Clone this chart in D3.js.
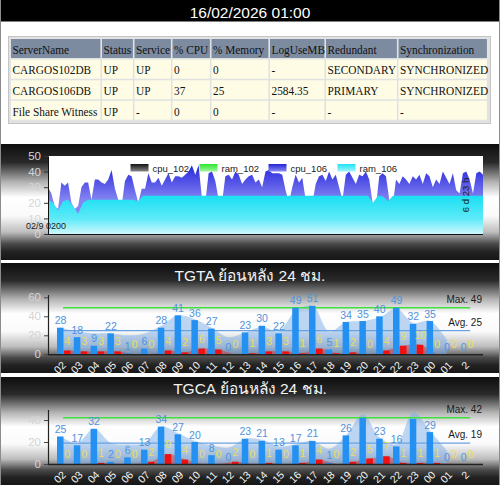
<!DOCTYPE html>
<html>
<head>
<meta charset="utf-8">
<script src="https://cdn.jsdelivr.net/npm/d3@7"></script>
<style>
body { margin: 0; background: #fff; }
svg { display: block; }
</style>
</head>
<body>
<svg id="chart" width="500" height="485"></svg>
<script>
// ---- data ----
var stamp = "16/02/2026 01:00";
var tableHead = ["ServerName", "Status", "Service", "% CPU", "% Memory", "LogUseMB", "Redundant", "Synchronization"];
var tableRows = [
	["CARGOS102DB", "UP", "UP", "0", "0", "-", "SECONDARY", "SYNCHRONIZED"],
	["CARGOS106DB", "UP", "UP", "37", "25", "2584.35", "PRIMARY", "SYNCHRONIZED"],
	["File Share Witness", "UP", "-", "0", "0", "-", "-", "-"]
];

var legendNames = ["cpu_102", "ram_102", "cpu_106", "ram_106"];
var cpuTicks = [0, 10, 20, 30, 40, 50];
var startLabel = "02/9 0200";
var spanLabel = "6 d 23 h";

// cpu_106 over the period (left to right)
var cpu106 = [30,26,18,16,33,31,33,20,16,18,30,33,33,22,35,35,33,32,35,41,29,22,18,34,38,37,28,20,29,29,
	39,33,33,36,31,35,39,33,37,37,36,38,40,44,38,44,23,20,39,40,34,22,20,37,38,35,40,38,32,35,37,
	38,33,35,30,40,41,39,39,39,38,28,20,30,38,33,36,22,18,20,32,37,38,34,40,35,38,30,22,38,40,
	36,32,38,37,40,35,20,18,37,39,37,22,18,35,32,37,35,32,37,35,38,32,39,37,30,35,32,40,36,32,
	39,28,26,39,40,35,26,39,40,38];
// ram_106 over the same period
var ram106 = [22,20,15,21,22,18,13,20,22,22,22,22,22,22,22,22,22,22,21,
	24.5,24.5,24.5,24.5,24.5,24.5,24.5,24.5,24.5,24.5,24.5,24.5,24.5,24.5,24.5,24.5,24.5,24.5,24.5,24.5,24.5,24.5,24.5,
	24.5,24.5,24.5,24.5,24.5,24.5,24.5,24.5,24.5,24.5,24.5,24.5,24.5,24.5,24.5,24.5,24.5,24.5,24.5,24.5,24.5,24.5,24.5,
	20,24.5,24,21,
	24.5,24.5,24.5,24.5,24.5,24.5,24.5,24.5,24.5,24.5,24.5,24.5,24.5,24.5,24.5,24.5,24.5,24.5,24.5];

var hours = ["02","03","04","05","06","07","08","09","10","11","12","13","14","15","16","17","18","19","20","21","22","23","00","01","2"];

var tgtaTitle = "TGTA ย้อนหลัง 24 ชม.";
var tgtaVal   = [28,18,9,22,1,6,28,41,36,27,0,23,30,22,49,51,5,34,35,40,49,32,35,0,0];
var tgtaSub   = [4,3,3,3,0,0,4,2,6,5,0,1,3,3,1,6,1,2,0,4,9,10,0,0,0];
var tgtaTrend = [28,24,22,22,20,22,30,41,37,28,18,23,29,24,46,51,24,34,35,39,48,33,35,15,null];
var tgtaMax = 49, tgtaAvg = 25;
var tgtaTicks = [0, 20, 40, 60];

var tgcaTitle = "TGCA ย้อนหลัง 24 ชม.";
var tgcaVal   = [25,17,32,2,6,13,34,27,20,8,0,23,21,13,17,21,1,26,42,23,16,41,29,0,0];
var tgcaSub   = [0,0,1,0,0,2,9,4,0,0,2,0,1,0,1,4,0,2,5,7,1,1,1,0,0];
var tgcaTrend = [25,19,32,19,18,19,34,28,21,17,15,23,22,16,18,21,14,26,45,24,18,47,30,12,null];
var tgcaMax = 42, tgcaAvg = 19;
var tgcaTicks = [0, 20, 40];

// ---- drawing ----
var svg = d3.select("#chart");
var defs = svg.append("defs");

function addGrad(id, stops, x1, y1, x2, y2, units) {
	var g = defs.append("linearGradient").attr("id", id)
		.attr("x1", x1).attr("y1", y1).attr("x2", x2).attr("y2", y2);
	if (units) g.attr("gradientUnits", units);
	stops.forEach(function(s) {
		g.append("stop").attr("offset", s[0]).attr("stop-color", s[1]);
	});
}

addGrad("panelBg", [[0, "#0e0e0e"], [0.16, "#2a2a2a"], [0.33, "#b4b4b4"], [0.46, "#ffffff"],
	[0.62, "#fafafa"], [0.76, "#bdbdbd"], [0.86, "#4a4a4a"], [0.93, "#222"], [1, "#161616"]], 0, 0, 0, 1);
addGrad("sw0", [[0, "#111"], [1, "#888"]], 0, 0, 0, 1);
addGrad("sw1", [[0, "#2ee62e"], [1, "#9ff59f"]], 0, 0, 0, 1);
addGrad("sw2", [[0, "#2222d8"], [1, "#8a8af2"]], 0, 0, 0, 1);
addGrad("sw3", [[0, "#1ee3f5"], [1, "#9ff3fb"]], 0, 0, 0, 1);
addGrad("cpuFill", [[0, "#2626dc"], [1, "#8484f2"]], 0, 165, 0, 200, "userSpaceOnUse");
addGrad("ramFill", [[0, "#1adff3"], [0.6, "#5eeaf8"], [1, "#cdf8fc"]], 0, 196, 0, 234, "userSpaceOnUse");

// header bar
svg.append("rect").attr("x", 0.5).attr("y", 0.5).attr("width", 499).attr("height", 484)
	.attr("fill", "#fff").attr("stroke", "#8c8c8c");
svg.append("rect").attr("x", 1).attr("y", 0).attr("width", 498).attr("height", 21.5).attr("fill", "#000");
svg.append("text").attr("x", 250).attr("y", 17.5).attr("text-anchor", "middle")
	.attr("font-family", "Arial, 'Liberation Sans', sans-serif").attr("font-size", 15.5)
	.attr("fill", "#fff").text(stamp);

// table
var colEdges = [11, 102, 134.5, 172.5, 211.5, 270, 326, 398.5, 488.5];
var rowEdges = [39, 59.6, 80.3, 100.9, 121.3];
svg.append("rect").attr("x", 8.5).attr("y", 36.5).attr("width", 482).attr("height", 87)
	.attr("fill", "#e2e2e2").attr("stroke", "#c4c4c4");
var allRows = [tableHead].concat(tableRows);
allRows.forEach(function(row, r) {
	row.forEach(function(cell, c) {
		var x = colEdges[c], y = rowEdges[r];
		svg.append("rect").attr("x", x).attr("y", y)
			.attr("width", colEdges[c + 1] - x - 1.6).attr("height", rowEdges[r + 1] - y - 1.6)
			.attr("fill", r == 0 ? "#7d8ba1" : "#fffce6");
		svg.append("text")
			.attr("transform", "translate(" + (x + 1.5) + "," + (y + 14.6) + ") scale(0.84,1)")
			.attr("font-family", "'Liberation Serif', 'Times New Roman', serif").attr("font-size", 13.5)
			.attr("fill", "#111").text(cell);
	});
});

// panel backgrounds
function panelBg(top, bottom) {
	svg.append("rect").attr("x", 1).attr("y", top).attr("width", 498).attr("height", bottom - top)
		.attr("fill", "url(#panelBg)");
}
panelBg(144, 260);
panelBg(263, 373);
panelBg(377, 485);

// ---- panel 1: cpu / ram area chart ----
(function() {
	var left = 48, right = 483, top = 156, bottom = 234;
	var y = d3.scaleLinear().domain([0, 50]).range([bottom, top]);
	var xc = d3.scaleLinear().domain([0, cpu106.length - 1]).range([left, right]);
	var xr = d3.scaleLinear().domain([0, ram106.length - 1]).range([left, right]);

	svg.append("rect").attr("x", left).attr("y", top).attr("width", right - left).attr("height", bottom - top)
		.attr("fill", "#fff");

	svg.append("path").datum(cpu106)
		.attr("d", d3.area().x(function(d, i) { return xc(i); }).y0(y(0)).y1(function(d) { return y(d); }))
		.attr("fill", "url(#cpuFill)");
	svg.append("path").datum(ram106)
		.attr("d", d3.area().x(function(d, i) { return xr(i); }).y0(y(0)).y1(function(d) { return y(d); }))
		.attr("fill", "url(#ramFill)");

	// legend
	var lg = svg.append("g").attr("font-family", "Arial, 'Liberation Sans', sans-serif").attr("font-size", 9.5);
	legendNames.forEach(function(n, i) {
		var lx = 130.5 + i * 69;
		lg.append("rect").attr("x", lx).attr("y", 164).attr("width", 18).attr("height", 7.5)
			.attr("fill", "url(#sw" + i + ")");
		lg.append("text").attr("x", lx + 22).attr("y", 171.5).attr("fill", "#222").text(n);
	});

	// axes
	var ax = d3.axisLeft(y).tickValues(cpuTicks).tickSize(4).tickPadding(3);
	var g = svg.append("g").attr("transform", "translate(" + left + ",0)").call(ax);
	g.select(".domain").attr("stroke", "#111");
	g.selectAll(".tick line").attr("stroke", "#333");
	g.selectAll(".tick text").attr("fill", "#d6d6d6").attr("font-size", 11.5)
		.attr("font-family", "Arial, 'Liberation Sans', sans-serif");
	svg.append("line").attr("x1", left).attr("x2", right).attr("y1", bottom + 0.5).attr("y2", bottom + 0.5)
		.attr("stroke", "#111").attr("stroke-width", 1.2);

	svg.append("text").attr("x", 26).attr("y", 228.5).attr("font-size", 9)
		.attr("font-family", "Arial, 'Liberation Sans', sans-serif").attr("fill", "#1a1a1a").text(startLabel);
	svg.append("text").attr("transform", "translate(469,195) rotate(-90)").attr("text-anchor", "middle")
		.attr("font-size", 9.5).attr("font-family", "Arial, 'Liberation Sans', sans-serif")
		.attr("fill", "#1a1a1a").text(spanLabel);
})();

// ---- panels 2 and 3: hourly bars ----
function barPanel(o) {
	var left = 48, right = 483;
	var x = d3.scaleBand().domain(hours).range([55.6, 475.6]);
	var y = d3.scaleLinear().domain([0, o.tickTop]).range([o.base, o.tickTopPx]);
	var cx = function(h) { return x(h) + x.bandwidth() / 2; };
	var font = "Arial, 'Liberation Sans', sans-serif";

	svg.append("text").attr("x", 250).attr("y", o.titleY).attr("text-anchor", "middle")
		.attr("font-family", "Arial, 'Noto Sans', sans-serif").attr("font-size", 15.5)
		.attr("fill", "#f2f2f2").text(o.title);

	// smoothed trend area
	var trend = hours.map(function(h, i) { return {h: h, v: o.trend[i]}; });
	svg.append("path").datum(trend)
		.attr("d", d3.area().defined(function(d) { return d.v != null; })
			.curve(d3.curveCatmullRom.alpha(0.5))
			.x(function(d) { return cx(d.h) - 3.5; }).y0(y(0)).y1(function(d) { return y(d.v); }))
		.attr("fill", "#79aeea").attr("fill-opacity", 0.5);

	// max / avg lines
	var lx1 = cx(hours[0]) - 1, lx2 = cx(hours[hours.length - 1]) + 3;
	svg.append("line").attr("x1", lx1).attr("x2", lx2).attr("y1", y(o.max)).attr("y2", y(o.max))
		.attr("stroke", "#3fe03f").attr("stroke-width", 1.5);
	svg.append("line").attr("x1", lx1).attr("x2", lx2).attr("y1", y(o.avg)).attr("y2", y(o.avg))
		.attr("stroke", "#68a2e2").attr("stroke-width", 1.2);

	// red area
	var sub = hours.map(function(h, i) { return {h: h, v: o.sub[i]}; });
	svg.append("path").datum(sub)
		.attr("d", d3.area().curve(d3.curveCatmullRom.alpha(0.5))
			.x(function(d) { return cx(d.h) + 3.5; }).y0(y(0)).y1(function(d) { return y(d.v); }))
		.attr("fill", "#e82a2a").attr("fill-opacity", 0.45);

	// bars
	svg.append("g").selectAll("rect").data(hours).enter().append("rect")
		.attr("x", function(h) { return cx(h) - 7; })
		.attr("y", function(h, i) { return y(o.val[i]); })
		.attr("width", 6.5)
		.attr("height", function(h, i) { return y(0) - y(o.val[i]); })
		.attr("fill", "#2390f2");
	svg.append("g").selectAll("rect").data(hours).enter().append("rect")
		.attr("x", function(h) { return cx(h); })
		.attr("y", function(h, i) { return y(o.sub[i]); })
		.attr("width", 6.5)
		.attr("height", function(h, i) { return y(0) - y(o.sub[i]); })
		.attr("fill", "#ee1111");

	// axes
	var ax = d3.axisLeft(y).tickValues(o.ticks).tickSize(4).tickPadding(3);
	var g = svg.append("g").attr("transform", "translate(" + left + ",0)").call(ax);
	g.select(".domain").remove();
	g.selectAll(".tick line").attr("stroke", "#444");
	g.selectAll(".tick text").attr("fill", "#d4d4d4").attr("font-size", 11.5).attr("font-family", font);
	svg.append("line").attr("x1", left + 0.5).attr("x2", left + 0.5).attr("y1", o.axisTopPx).attr("y2", y(0))
		.attr("stroke", "#222").attr("stroke-width", 1.2);
	svg.append("line").attr("x1", left).attr("x2", right).attr("y1", y(0) + 0.5).attr("y2", y(0) + 0.5)
		.attr("stroke", "#222").attr("stroke-width", 1.5);

	// value labels
	svg.append("g").selectAll("text").data(hours).enter().append("text")
		.attr("x", function(h) { return cx(h) - 3.5; })
		.attr("y", function(h, i) { return y(o.val[i]) - 3.5; })
		.attr("text-anchor", "middle").attr("font-family", font).attr("font-size", 10.5)
		.attr("fill", "#4f93dd")
		.text(function(h, i) { return o.hide && o.hide.indexOf(h) >= 0 ? "" : o.val[i]; });
	svg.append("g").selectAll("text").data(hours).enter().append("text")
		.attr("x", function(h) { return cx(h) + 3.5; })
		.attr("y", function(h, i) { return y(o.sub[i]) - 6; })
		.attr("text-anchor", "middle").attr("font-family", font).attr("font-size", 10.5)
		.attr("fill", "#e8df5c")
		.text(function(h, i) { return o.sub[i]; });

	// max / avg text
	svg.append("text").attr("x", 482).attr("y", y(o.max) - 5).attr("text-anchor", "end")
		.attr("font-family", font).attr("font-size", 10).attr("fill", "#1a1a1a").text("Max. " + o.max);
	svg.append("text").attr("x", 482).attr("y", y(o.avg) - 5).attr("text-anchor", "end")
		.attr("font-family", font).attr("font-size", 10).attr("fill", "#1a1a1a").text("Avg. " + o.avg);

	// hour labels
	svg.append("g").selectAll("text").data(hours).enter().append("text")
		.attr("transform", function(h) { return "translate(" + cx(h) + "," + (y(0) + 9) + ") rotate(-45)"; })
		.attr("text-anchor", "end").attr("dy", "0.35em")
		.attr("font-family", font).attr("font-size", 10.5).attr("fill", "#f4f4f4")
		.text(function(h) { return h; });
}

barPanel({title: tgtaTitle, titleY: 281, base: 354.3, tickTop: 60, tickTopPx: 297.3, axisTopPx: 295,
	ticks: tgtaTicks, val: tgtaVal, sub: tgtaSub, trend: tgtaTrend, max: tgtaMax, avg: tgtaAvg});
barPanel({title: tgcaTitle, titleY: 394, base: 464, tickTop: 40, tickTopPx: 420, axisTopPx: 410,
	ticks: tgcaTicks, val: tgcaVal, sub: tgcaSub, trend: tgcaTrend, max: tgcaMax, avg: tgcaAvg,
	hide: ["20", "23"]});
</script>
</body>
</html>
